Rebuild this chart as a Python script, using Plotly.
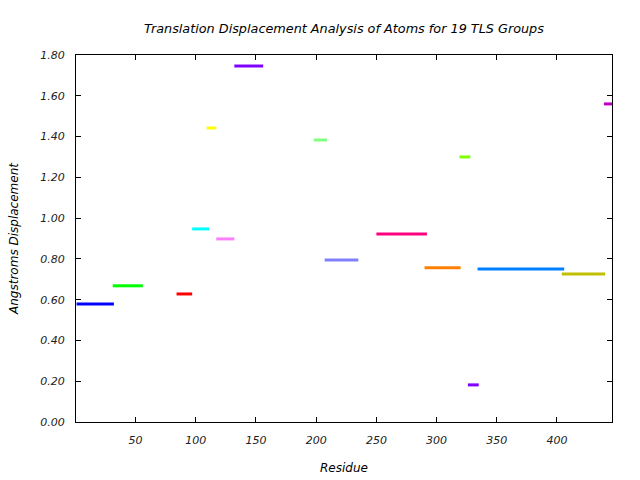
import plotly.graph_objects as go

# TLS group segments (residue ranges) and translation displacement values
seg_start = [1, 31, 84, 97, 109, 117, 132, 198, 207, 250, 290, 319, 326, 334, 404, 439]
seg_end   = [32, 56, 97, 111, 117, 132, 156, 209, 235, 292, 320, 328, 335, 406, 440, 447]
displacement = [0.579, 0.668, 0.628, 0.947, 1.442, 0.898, 1.746, 1.383, 0.795,
                0.922, 0.756, 1.300, 0.182, 0.751, 0.726, 1.560]
seg_colors = ["#0000ff", "#00ff00", "#ff0000", "#00ffff", "#ffff00", "#ff80ff",
              "#8000ff", "#80ff80", "#8080ff", "#ff0080", "#ff8000", "#80ff00",
              "#8000ff", "#0080ff", "#c0c000", "#c000c0"]

y_ticks = [0.0, 0.2, 0.4, 0.6, 0.8, 1.0, 1.2, 1.4, 1.6, 1.8]
x_ticks = [50, 100, 150, 200, 250, 300, 350, 400]

fig = go.Figure()
for s, e, v, c in zip(seg_start, seg_end, displacement, seg_colors):
    fig.add_trace(go.Scatter(x=[s, e], y=[v, v], mode="lines",
                             line=dict(color=c, width=3), showlegend=False,
                             hoverinfo="skip"))

font_family = "DejaVu Sans"
fig.update_layout(
    width=640, height=480,
    margin=dict(l=76, r=28, t=55, b=58, autoexpand=False),
    paper_bgcolor="white", plot_bgcolor="white",
    font=dict(family=font_family, size=11, color="#222222"),
    title=dict(text="<i>Translation Displacement Analysis of Atoms for 19 TLS Groups</i>",
               x=(76 + 612) / 2 / 640, xanchor="center", y=1 - 28.5 / 480, yanchor="middle",
               font=dict(family=font_family, size=12.8, color="black")),
    xaxis=dict(range=[0.5, 445.7], tickvals=x_ticks,
               ticktext=[f"<i>{t}</i>" for t in x_ticks],
               showgrid=False, zeroline=False, showline=True, linecolor="black",
               linewidth=1, mirror="ticks", ticks="inside", ticklen=5,
               tickcolor="black", ticklabelstandoff=8, automargin=False,
               title=dict(text="<i>Residue</i>", standoff=17,
                          font=dict(size=12, color="black"))),
    yaxis=dict(range=[0, 1.8], tickvals=y_ticks,
               ticktext=[f"<i>{t:.2f}</i>" for t in y_ticks],
               showgrid=False, zeroline=False, showline=True, linecolor="black",
               linewidth=1, mirror="ticks", ticks="inside", ticklen=5,
               tickcolor="black", ticklabelstandoff=8, automargin=False,
               title=dict(text="<i>Angstroms Displacement</i>", standoff=19,
                          font=dict(size=12, color="black"))),
)

fig.write_html("out.html", config={"displayModeBar": False},
               post_script="document.body.style.margin='0';")
